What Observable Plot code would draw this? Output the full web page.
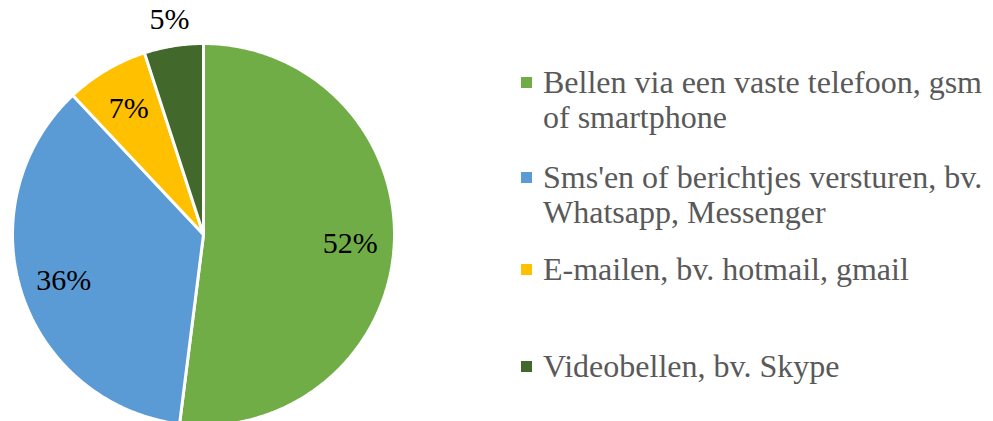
<!DOCTYPE html>
<html>
<head>
<meta charset="utf-8">
<script src="https://cdn.jsdelivr.net/npm/d3@7"></script>
<script src="https://cdn.jsdelivr.net/npm/@observablehq/plot@0.6"></script>
<style>
  html, body { margin: 0; padding: 0; background: #fff; }
  #wrap { position: relative; width: 993px; height: 421px; overflow: hidden; }
  #chart svg { display: block; }
  .item { position: absolute; left: 543px; width: 449px; font-family: "Liberation Serif", "Times New Roman", serif;
          font-size: 32px; line-height: 35.5px; color: #595959; white-space: normal; }
  .sw { position: absolute; left: -22px; top: 12.5px; width: 11px; height: 11px; }
</style>
</head>
<body>
<div id="wrap"><div id="chart"></div><div id="legend"></div></div>
<script>
const categories = [
  "Bellen via een vaste telefoon, gsm of smartphone",
  "Sms'en of berichtjes versturen, bv. Whatsapp, Messenger",
  "E-mailen, bv. hotmail, gmail",
  "Videobellen, bv. Skype"
];
const shares = [52, 36, 7, 5];
const colors = ["#70AD47", "#5B9BD5", "#FFC000", "#43682B"];

const W = 993, H = 421, CX = 203, CY = 234, R = 191;

const table = categories.map((name, i) => ({name, value: shares[i]}));
const arcs = d3.pie().sort(null).value(d => d.value)(table);

// polygon points for each slice (unit circle, y up), derived from pie angles
const poly = [];
for (const a of arcs) {
  poly.push({name: a.data.name, x: 0, y: 0});
  const n = Math.max(4, Math.ceil((a.endAngle - a.startAngle) / 0.01));
  for (let k = 0; k <= n; k++) {
    const t = a.startAngle + (a.endAngle - a.startAngle) * k / n;
    poly.push({name: a.data.name, x: Math.sin(t), y: Math.cos(t)});
  }
  poly.push({name: a.data.name, x: 0, y: 0});
}

const labels = arcs.map(a => {
  const m = (a.startAngle + a.endAngle) / 2;
  const r = a.data.value < 6 ? 1.14 : 0.77;
  return {text: a.data.value + "%", x: r * Math.sin(m), y: r * Math.cos(m)};
});

const chart = Plot.plot({
  width: W, height: H, margin: 0,
  x: {domain: [-CX / R, (W - CX) / R], axis: null},
  y: {domain: [-(H - CY) / R, CY / R], axis: null},
  color: {domain: categories, range: colors},
  marks: [
    Plot.line(poly, {x: "x", y: "y", z: "name", fill: "name", stroke: "white", strokeWidth: 3, strokeLinejoin: "miter", curve: "linear"}),
    Plot.text(labels, {x: "x", y: "y", text: "text", fontFamily: "Liberation Serif", fontSize: 30, fill: "black", textAnchor: "middle", lineAnchor: "middle"})
  ]
});
document.getElementById("chart").appendChild(chart);

const tops = [64.5, 159.5, 251.5, 348.5];
const legend = document.getElementById("legend");
categories.forEach((c, i) => {
  const d = document.createElement("div");
  d.className = "item";
  d.style.top = tops[i] + "px";
  const s = document.createElement("span");
  s.className = "sw";
  s.style.background = chart.scale("color").apply(c);
  d.appendChild(s);
  d.appendChild(document.createTextNode(c));
  legend.appendChild(d);
});
</script>
</body>
</html>
